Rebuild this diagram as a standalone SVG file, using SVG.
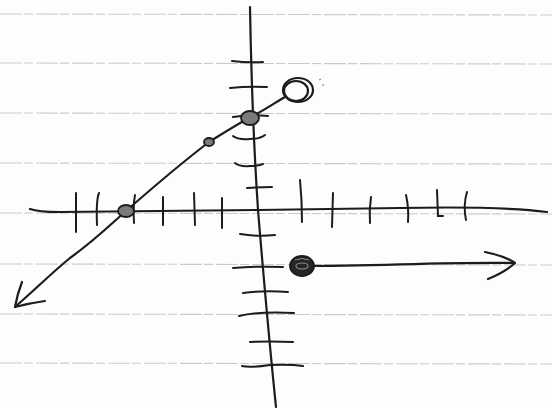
<svg xmlns="http://www.w3.org/2000/svg" width="552" height="408" viewBox="0 0 552 408">
<style>
.rule{stroke:#cbcbcb;stroke-width:1.1;stroke-dasharray:22 2 9 3;fill:none}
.ink{stroke:#1c1c1c;stroke-width:2.2;fill:none;stroke-linecap:round;stroke-linejoin:round}
.tick{stroke:#1c1c1c;stroke-width:2;fill:none;stroke-linecap:round}
.dot{stroke:#1c1c1c;stroke-width:1.8;fill:#7a7a7a}
</style>
<rect width="552" height="408" fill="#fdfdfd"/>
<g id="paper">
<line class="rule" x1="0" y1="14" x2="552" y2="15"/>
<line class="rule" x1="0" y1="63" x2="552" y2="64"/>
<line class="rule" x1="0" y1="113" x2="552" y2="114"/>
<line class="rule" x1="0" y1="163" x2="552" y2="164"/>
<line class="rule" x1="0" y1="213" x2="552" y2="214"/>
<line class="rule" x1="0" y1="264" x2="552" y2="265"/>
<line class="rule" x1="0" y1="314" x2="552" y2="315"/>
<line class="rule" x1="0" y1="363" x2="552" y2="364"/>
</g>
<g id="y-axis">
<path class="ink" d="M250,7 Q252,120 258,210 Q268,330 276,407"/>
<path class="tick" d="M232,61 Q248,63 263,62"/>
<path class="tick" d="M230,88 Q248,86 267,87"/>
<path class="tick" d="M233,117 Q250,114 268,116"/>
<path class="tick" d="M233,136 Q238,140 250,139 Q260,139 265,135"/>
<path class="tick" d="M235,163 Q240,167 250,166 Q258,166 263,164"/>
<path class="tick" d="M247,188 Q260,187 272,187"/>
<path class="tick" d="M240,234 Q258,237 275,235"/>
<path class="tick" d="M233,268 Q258,266 283,267"/>
<path class="tick" d="M243,293 Q265,290 288,292"/>
<path class="tick" d="M239,316 Q260,311 294,313"/>
<path class="tick" d="M250,342 Q270,341 293,342"/>
<path class="tick" d="M242,366 Q250,368 270,365 Q290,364 303,366"/>
</g>
<g id="x-axis">
<path class="ink" d="M30,209 Q38,212 60,212 L258,210 L400,208 Q500,206 547,212"/>
<path class="tick" d="M76,193 L76,232"/>
<path class="tick" d="M99,193 Q96,200 97,225"/>
<path class="tick" d="M135,195 Q133,205 134,223"/>
<path class="tick" d="M163,197 L163,225"/>
<path class="tick" d="M194,193 L195,225"/>
<path class="tick" d="M222,198 L222,228"/>
<path class="tick" d="M300,180 Q302,200 302,222"/>
<path class="tick" d="M333,193 L332,227"/>
<path class="tick" d="M371,197 Q369,210 370,223"/>
<path class="tick" d="M406,195 Q409,208 408,222"/>
<path class="tick" d="M437,190 L438,216 L443,216"/>
<path class="tick" d="M467,192 Q463,205 466,220"/>
</g>
<g id="line-graph">
<path class="ink" d="M15,307 C40,285 55,270 70,258 C95,240 110,225 126,211 C150,190 175,168 209,142 C225,132 238,124 249,118 C265,110 276,102 285,97"/>
<path class="ink" d="M22,282 Q17,295 15,307 Q30,303 45,301"/>
<ellipse class="dot" cx="126" cy="211" rx="8" ry="6"/>
<ellipse class="dot" cx="209" cy="142" rx="5" ry="4"/>
<ellipse class="dot" cx="250" cy="118" rx="9" ry="7"/>
<ellipse class="ink" cx="298" cy="90" rx="15" ry="12"/>
<ellipse class="ink" cx="296" cy="91" rx="12" ry="10" stroke-width="1.4"/>
<path d="M319,80 l2,-1 M322,85 l2,0" stroke="#777" stroke-width="1" fill="none"/>
</g>
<g id="ray-graph">
<path class="ink" d="M302,266 C380,266 440,262 513,263"/>
<path class="ink" d="M485,252 Q505,256 515,263 Q505,272 488,279"/>
<ellipse cx="302" cy="266" rx="12" ry="10" fill="#262626" stroke="#1c1c1c" stroke-width="1.8"/>
<ellipse cx="302" cy="266" rx="6" ry="3" fill="none" stroke="#8a8a8a" stroke-width="1.2"/>
<path d="M295,260 Q302,257 309,260" fill="none" stroke="#8a8a8a" stroke-width="1"/>
</g>
</svg>
